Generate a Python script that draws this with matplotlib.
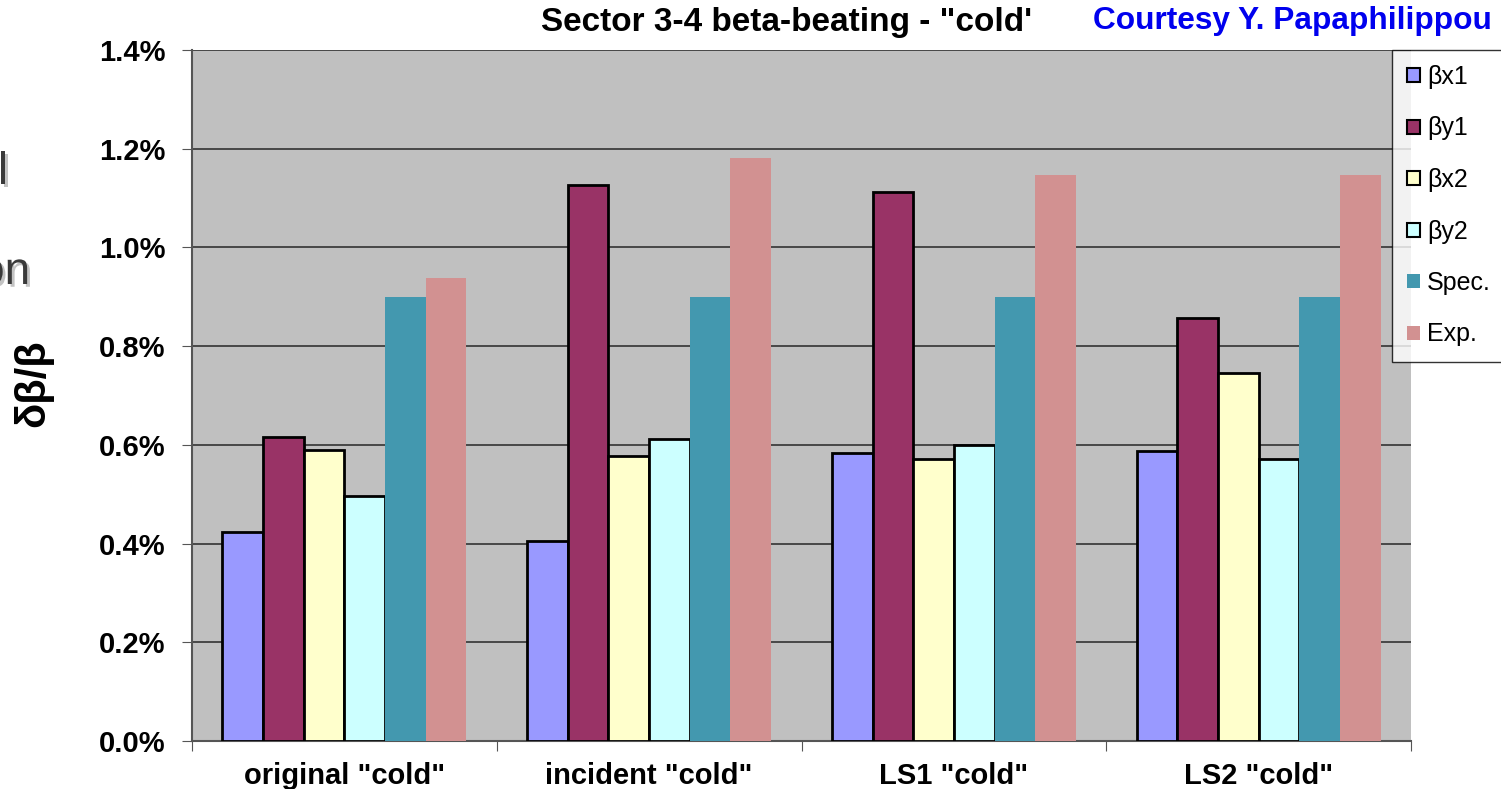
import numpy as np
from matplotlib import pyplot as plt
from matplotlib.patches import Patch
import matplotlib.patheffects as pe

plt.rcParams['font.family'] = ['Liberation Sans', 'DejaVu Sans']

categories = ['original "cold"', 'incident "cold"', 'LS1 "cold"', 'LS2 "cold"']
series = ['βx1', 'βy1', 'βx2', 'βy2', 'Spec.', 'Exp.']
bx1 = [0.423, 0.405, 0.583, 0.588]
by1 = [0.616, 1.126, 1.112, 0.857]
bx2 = [0.590, 0.577, 0.571, 0.746]
by2 = [0.496, 0.612, 0.600, 0.571]
spec = [0.90, 0.90, 0.90, 0.90]
exp_ = [0.938, 1.181, 1.147, 1.147]
values = [bx1, by1, bx2, by2, spec, exp_]
colors = ['#9999FF', '#993366', '#FFFFCC', '#CCFFFF', '#4398AF', '#D29191']
edged = [True, True, True, True, False, False]

fig = plt.figure(figsize=(15.01, 7.89), dpi=100)
ax = fig.add_axes([192 / 1501, 48 / 789, 1219 / 1501, 691 / 789])
ax.set_facecolor('#C0C0C0')

x = np.arange(len(categories))
w = 0.8 / len(series)
for i, (name, vals) in enumerate(zip(series, values)):
    off = (i - 2.5) * w
    if edged[i]:
        ax.bar(x + off, vals, width=w, color=colors[i], edgecolor='black',
               linewidth=2, zorder=3, label=name)
    else:
        ax.bar(x + off, vals, width=w, color=colors[i], linewidth=0,
               zorder=3, label=name)

ax.set_xlim(-0.5, len(categories) - 0.5)
ax.set_ylim(0, 1.4)
ax.set_yticks(np.arange(0, 1.41, 0.2))
ax.set_yticklabels(['%.1f%%' % v for v in np.arange(0, 1.41, 0.2)],
                   fontsize=21, fontweight='bold')
ax.yaxis.grid(True, color='#333333', linewidth=1.2, zorder=0)
ax.set_axisbelow(True)

# group boundaries as major ticks, names centred as minor tick labels
ax.set_xticks(np.arange(-0.5, len(categories), 1.0))
ax.set_xticklabels([])
ax.set_xticks(x, minor=True)
ax.set_xticklabels(categories, minor=True, fontsize=21, fontweight='bold')
ax.tick_params(axis='x', which='minor', length=0, pad=15)
ax.tick_params(axis='x', which='major', length=7, color='#555555')
ax.tick_params(axis='y', length=7, color='#555555', pad=12)

for s in ['top', 'right']:
    ax.spines[s].set_visible(False)
for s in ['left', 'bottom']:
    ax.spines[s].set_color('#555555')
    ax.spines[s].set_linewidth(1.5)

fig.text(0.524, 0.971, 'Sector 3-4 beta-beating - "cold\'', fontsize=24,
         fontweight='bold', ha='center', va='center')
fig.text(1093 / 1501, 0.973, 'Courtesy Y. Papaphilippou', fontsize=22.8,
         fontweight='bold', color='#0000EE', ha='left', va='center')

fig.text(0.0223, 1 - 383 / 789, 'δβ/β', fontsize=30, fontweight='bold', rotation=90,
         ha='center', va='center')

# fragments of slide text sticking in from the left
frag_fx = [pe.SimplePatchShadow(offset=(2, -2), alpha=0.25), pe.Normal()]
fig.text(8 / 1501, 1 - 172 / 789, 'l', fontsize=33, color='#3a3a3a',
         ha='right', va='center', path_effects=frag_fx)
fig.text(30 / 1501, 1 - 272 / 789, 'on', fontsize=33, color='#3a3a3a',
         ha='right', va='center', path_effects=frag_fx)

handles = [Patch(facecolor=c, edgecolor='black' if e else c, linewidth=1.5 if e else 0)
           for c, e in zip(colors, edged)]
leg = fig.legend(handles, series, loc='upper left',
                 bbox_to_anchor=(1392 / 1501, 1 - 50 / 789), fontsize=18,
                 frameon=True, fancybox=False, edgecolor='black',
                 handlelength=0.5, handleheight=0.5, handletextpad=0.3,
                 labelspacing=1.1, borderpad=0.6, borderaxespad=0)
leg.get_frame().set_linewidth(1)

fig.savefig('out.png', dpi=100)
